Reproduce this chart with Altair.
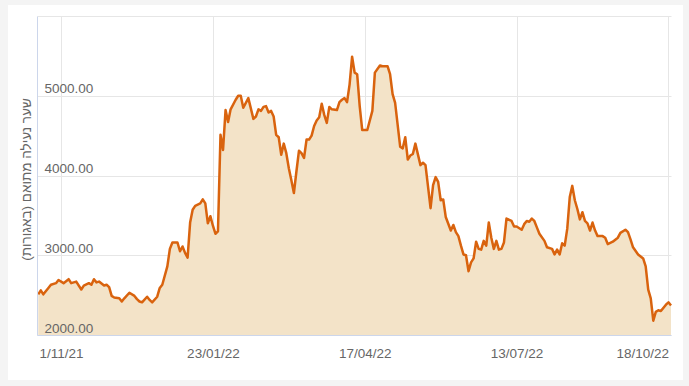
import altair as alt
import pandas as pd

# trading-day index (axis label every 60 trading days) and adjusted closing price (agorot)
day = [1, 2, 3, 5, 6, 8, 9, 11, 13, 14, 16, 18, 19, 21, 22, 23, 24, 25, 27, 28, 29, 30, 31, 33, 34, 35, 37, 39, 40,
       41, 42, 44, 45, 46, 48, 49, 50, 52, 53, 54, 56, 57, 58, 59, 60, 61, 62, 63, 65, 66, 67, 68, 69, 70, 71, 72,
       73, 74, 75, 76, 77, 79, 80, 81, 82,
       84, 86, 87, 88, 89, 90, 91, 92, 93, 94, 95, 96, 97, 98, 99, 100, 101, 102, 103, 104, 105, 106, 107, 108, 109,
       110, 111, 112, 113, 114, 115, 116, 117, 119, 120, 121, 122, 123,
       124, 125, 126, 127, 128, 129, 131, 133, 134, 136, 137, 139, 140, 141, 142, 144, 145, 146, 147, 148, 149, 150,
       152, 153, 154, 156, 157, 158, 159, 160, 161, 162, 164, 165, 166,
       167, 168, 169, 170, 171, 172, 173, 174, 175, 176, 177, 178, 179, 180, 181, 182, 183, 184, 185, 186, 188, 189,
       190, 192, 193, 194, 195, 196, 197, 198, 199, 201, 202, 204, 205, 206, 207,
       208, 209, 210, 211, 212, 213, 214, 215, 216, 217, 218, 219, 220, 221, 222, 224, 225, 226, 228, 230, 231, 233,
       234, 235, 236, 238, 240, 241, 242, 243, 244, 245, 246, 247, 249, 250, 251]
price = [2510, 2560, 2510, 2590, 2630, 2650, 2690, 2650, 2700, 2650, 2670, 2570, 2620, 2650, 2630, 2700, 2660, 2670,
         2620, 2630, 2600, 2490, 2470, 2460, 2420, 2460, 2530, 2490, 2450,
         2420, 2410, 2480, 2440, 2410, 2480, 2590, 2630, 2860, 3080, 3160, 3160, 3050, 3110, 3030, 2970, 3410, 3570,
         3620, 3650, 3700, 3650, 3400, 3490, 3370, 3270, 3300,
         4510, 4320, 4820, 4670, 4830, 4950, 5000, 5000, 4850,
         4970, 4710, 4740, 4830, 4810, 4860, 4870, 4790, 4810, 4740, 4510, 4480, 4260, 4400, 4280, 4090, 3940, 3780,
         4050, 4310, 4280, 4220, 4450, 4450, 4500,
         4620, 4690, 4730, 4900, 4760, 4660, 4860, 4830, 4820, 4920, 4950, 4970, 4920,
         5140, 5490, 5290, 5270, 4870, 4570, 4570, 4810, 5290, 5380, 5370, 5370, 5270, 5020, 4910, 4360, 4340, 4480,
         4200, 4250, 4270, 4400,
         4130, 4160, 4130, 3590, 3880, 3980, 3920, 3690, 3700, 3480, 3310, 3380, 3290,
         3240, 3120, 3010, 3000, 2800, 2910, 2960, 3170, 3080, 3070, 3180, 3120, 3410, 3220, 3080, 3180, 3070, 3080,
         3160, 3460, 3430, 3360,
         3360, 3320, 3390, 3430, 3420, 3460, 3430, 3350, 3270, 3180, 3100, 3080, 3010, 3070, 3010,
         3150, 3120, 3330, 3730, 3870, 3690, 3580, 3450, 3540, 3430, 3400, 3310, 3410, 3310, 3240, 3240, 3220, 3140,
         3170, 3220, 3280, 3320,
         3290, 3200, 3100, 3010, 2960, 2860, 2570, 2460, 2180, 2290, 2310, 2300, 2380, 2410, 2370]

tick_days = [10, 70, 130, 190, 250]
tick_labels = ["1/11/21", "23/01/22", "17/04/22", "13/07/22", "18/10/22"]
grid_prices = [2000, 3000, 4000, 5000, 6000]
label_prices = [2000, 3000, 4000, 5000]
y_title = "שער נעילה מתואם (באגורות)"

LINE = "#d9630e"
FILL = "#f3e3c8"
GRID = "#e6e6e6"
AXIS = "#ccd6eb"
TEXT = "#666666"
FRAME = "#f4f4f4"
FONT = "Liberation Sans"

df = pd.DataFrame({"day": day, "price": price})

x_scale = alt.Scale(domain=[0.5, 251], nice=False, zero=False)
y_scale = alt.Scale(domain=[2000, 6000], nice=False, zero=False)

x_label_expr = "".join(
    f"datum.value == {d} ? '{l}' : " for d, l in zip(tick_days, tick_labels)
) + "''"

base = alt.Chart(df)

area = base.mark_area(color=FILL, opacity=1).encode(
    x=alt.X("day:Q", scale=x_scale,
            axis=alt.Axis(orient="bottom", values=tick_days, grid=True, gridColor=GRID, gridWidth=1,
                          labels=False, ticks=False, domain=False, title=None, zindex=0)),
    y=alt.Y("price:Q", scale=y_scale,
            axis=alt.Axis(orient="left", values=grid_prices, grid=True, gridColor=GRID, gridWidth=1,
                          labels=False, ticks=False, domain=False, title=None, zindex=0)),
    y2=alt.datum(2000),
)

line = base.mark_line(color=LINE, strokeWidth=2.5, strokeJoin="round").encode(
    x=alt.X("day:Q", scale=x_scale,
            axis=alt.Axis(orient="bottom", values=tick_days, grid=False, labelExpr=x_label_expr,
                          labelFlush=5, labelFont=FONT, labelFontSize=13.5, labelColor=TEXT,
                          labelPadding=11, ticks=False, tickSize=0, domain=True, domainColor=AXIS,
                          domainWidth=1, title=None, zindex=1)),
    y=alt.Y("price:Q", scale=y_scale,
            axis=alt.Axis(orient="left", values=label_prices, grid=False, format=".2f",
                          labelAlign="left", labelBaseline="alphabetic", labelPadding=-7, labelOffset=-3,
                          labelFont=FONT, labelFontSize=13.5, labelColor=TEXT, labelFlush=False,
                          ticks=False, tickSize=0, domain=True, domainColor=AXIS, domainWidth=1,
                          title=y_title, titleX=-11, titleY=163, titleAngle=270, titleAlign="center",
                          titleBaseline="middle", titleFont=FONT, titleFontSize=13.5,
                          titleFontWeight="normal", titleColor=TEXT, zindex=1)),
)

frame_src = alt.Data(values=[{"k": 0}])


def strip(x0, x1, y0, y1):
    return alt.Chart(frame_src).mark_rect(color=FRAME).encode(
        x=alt.value(x0), x2=alt.value(x1), y=alt.value(y0), y2=alt.value(y1)
    )


chart = alt.layer(
    area, line,
    strip(-37, -29, -16, 370),
    strip(-37, 652, -16, -11),
    strip(646, 652, -16, 370),
    strip(-37, 652, 364, 370),
).resolve_axis(x="independent", y="independent").properties(
    width=634, height=319,
    padding={"left": 37, "top": 16, "right": 18, "bottom": 51},
    autosize=alt.AutoSizeParams(type="none"),
    background="white",
).configure_view(stroke=None)

chart.save("out.html", embed_options={"renderer": "svg", "actions": False})
